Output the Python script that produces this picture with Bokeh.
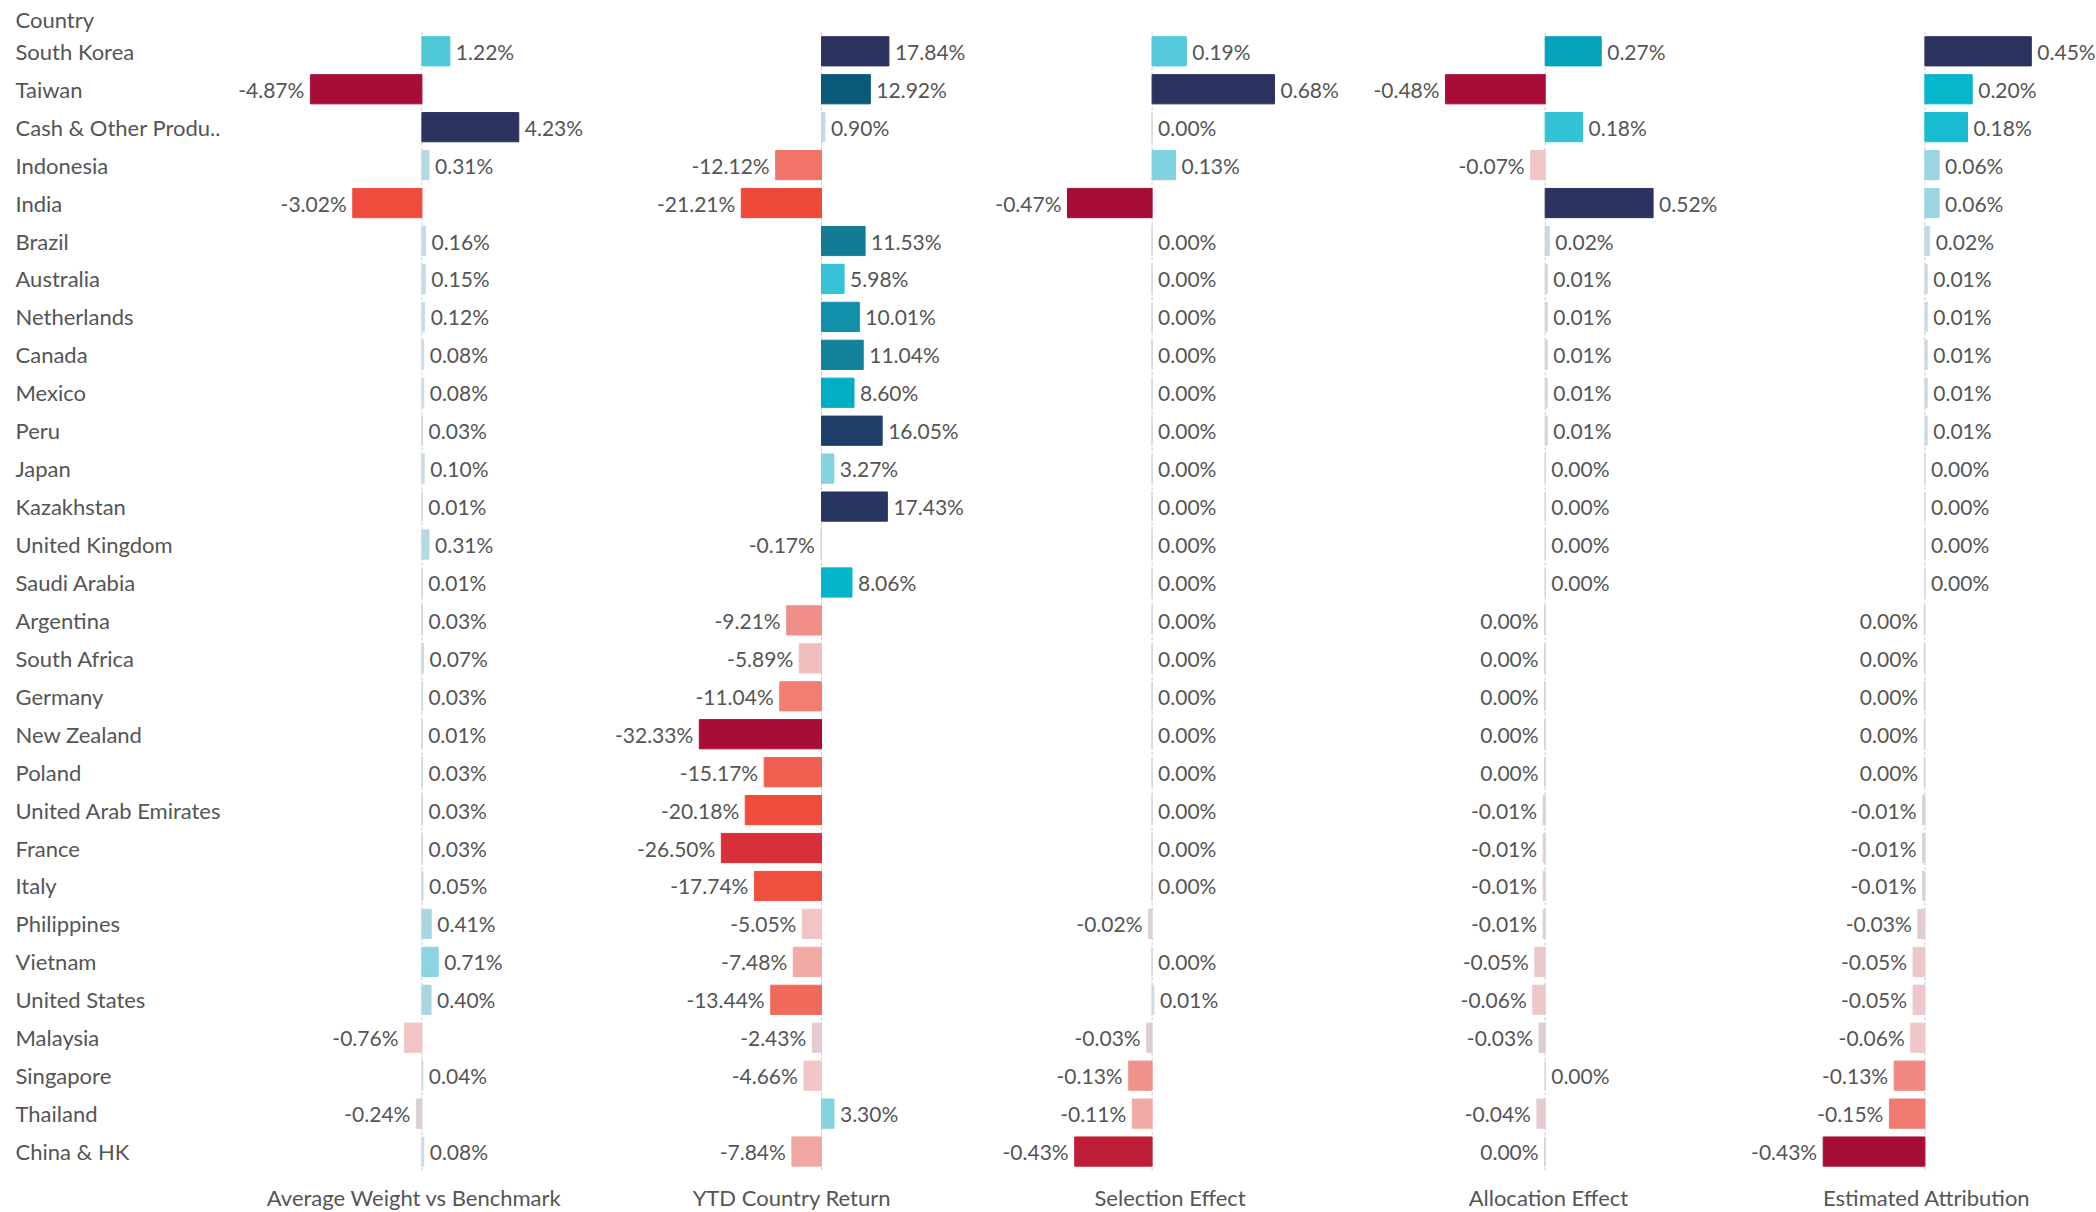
from bokeh.plotting import figure
from bokeh.layouts import row
from bokeh.models import ColumnDataSource, Range1d
from bokeh.embed import file_html
from bokeh.resources import INLINE
from bokeh.core.properties import value

# ---------------- data ----------------
row_header = "Country"
countries = [
    "South Korea", "Taiwan", "Cash & Other Produ..", "Indonesia", "India",
    "Brazil", "Australia", "Netherlands", "Canada", "Mexico",
    "Peru", "Japan", "Kazakhstan", "United Kingdom", "Saudi Arabia",
    "Argentina", "South Africa", "Germany", "New Zealand", "Poland",
    "United Arab Emirates", "France", "Italy", "Philippines", "Vietnam",
    "United States", "Malaysia", "Singapore", "Thailand", "China & HK",
]
avg_weight_vs_benchmark = [
    1.22, -4.87, 4.23, 0.31, -3.02,
    0.16, 0.15, 0.12, 0.08, 0.08,
    0.03, 0.10, 0.01, 0.31, 0.01,
    0.03, 0.07, 0.03, 0.01, 0.03,
    0.03, 0.03, 0.05, 0.41, 0.71,
    0.40, -0.76, 0.04, -0.24, 0.08,
]
ytd_country_return = [
    17.84, 12.92, 0.90, -12.12, -21.21,
    11.53, 5.98, 10.01, 11.04, 8.60,
    16.05, 3.27, 17.43, -0.17, 8.06,
    -9.21, -5.89, -11.04, -32.33, -15.17,
    -20.18, -26.50, -17.74, -5.05, -7.48,
    -13.44, -2.43, -4.66, 3.30, -7.84,
]
selection_effect = [
    0.19, 0.68, 0.00, 0.13, -0.47,
    0.00, 0.00, 0.00, 0.00, 0.00,
    0.00, 0.00, 0.00, 0.00, 0.00,
    0.00, 0.00, 0.00, 0.00, 0.00,
    0.00, 0.00, 0.00, -0.02, 0.00,
    0.01, -0.03, -0.13, -0.11, -0.43,
]
allocation_effect = [
    0.27, -0.48, 0.18, -0.07, 0.52,
    0.02, 0.01, 0.01, 0.01, 0.01,
    0.01, 0.00, 0.00, 0.00, 0.00,
    -0.003, -0.003, -0.003, -0.003, -0.003,
    -0.01, -0.01, -0.01, -0.01, -0.05,
    -0.06, -0.03, 0.00, -0.04, -0.003,
]
estimated_attribution = [
    0.45, 0.20, 0.18, 0.06, 0.06,
    0.02, 0.01, 0.01, 0.01, 0.01,
    0.01, 0.00, 0.00, 0.00, 0.00,
    -0.003, -0.003, -0.003, -0.003, -0.003,
    -0.01, -0.01, -0.01, -0.03, -0.05,
    -0.05, -0.06, -0.13, -0.15, -0.43,
]
column_titles = [
    "Average Weight vs Benchmark", "YTD Country Return", "Selection Effect",
    "Allocation Effect", "Estimated Attribution",
]
measures = [avg_weight_vs_benchmark, ytd_country_return, selection_effect,
            allocation_effect, estimated_attribution]

# ---------------- style ----------------
FONT = "Lato"
TEXT_COLOR = "#555555"
FS_LABEL = "22px"
FS_VALUE = "21px"
ZERO_LINE = "#c9c9c9"

POS_STOPS = [(0.00, "#d3d8dd"), (0.03, "#c9dce3"), (0.10, "#a9d6e1"), (0.17, "#8bd4e2"),
             (0.29, "#4ec8d8"), (0.40, "#17bcd0"), (0.46, "#00b4ca"), (0.52, "#05a3ba"),
             (0.56, "#1190ab"), (0.62, "#12819a"), (0.65, "#137a93"), (0.72, "#0a5a78"),
             (0.90, "#1f3f6b"), (1.00, "#2c335e")]
NEG_STOPS = [(0.00, "#d9d5d8"), (0.05, "#dccfd2"), (0.10, "#e8cacc"), (0.15, "#f2c6c6"),
             (0.18, "#f2bebe"), (0.24, "#f0a8a2"), (0.28, "#f0908a"), (0.34, "#f27e74"),
             (0.375, "#f07468"), (0.415, "#f06a5c"), (0.47, "#f05f50"), (0.55, "#f05040"),
             (0.65, "#f04a3c"), (0.82, "#d8303a"), (1.00, "#a80d38")]


def _rgb(h):
    return tuple(int(h[i:i + 2], 16) for i in (1, 3, 5))


def _interp(stops, t):
    t = max(0.0, min(1.0, t))
    for (t0, c0), (t1, c1) in zip(stops[:-1], stops[1:]):
        if t <= t1:
            f = 0 if t1 == t0 else (t - t0) / (t1 - t0)
            a, b = _rgb(c0), _rgb(c1)
            return "#%02x%02x%02x" % tuple(round(a[k] + (b[k] - a[k]) * f) for k in range(3))
    return stops[-1][1]


def diverging(vals):
    vmax = max(vals)
    vmin = min(vals)
    out = []
    for v in vals:
        if v >= 0:
            out.append(_interp(POS_STOPS, v / vmax if vmax > 0 else 0))
        else:
            out.append(_interp(NEG_STOPS, v / vmin if vmin < 0 else 0))
    return out


def fmt(v):
    r = round(v, 2)
    if r == 0:
        return "0.00%"
    return f"{r:.2f}%"


# ---------------- layout (page pixels) ----------------
H = 1212
ROW_PITCH = 37.94
FIRST_ROW_PX = 50.8       # centre of first row from the top
HEADER_PX = 19.0          # centre of the "Country" header
TITLE_PX = 1197.0         # centre of column titles
PANE_EDGES = [0, 230, 600, 978, 1355, 1730, 2096]
ZEROS = [421.4, 821.0, 1151.6, 1544.7, 1924.4]       # zero line positions
SCALES = [22.9, 3.78, 180.0, 207.5, 236.5]           # px per percentage point
TITLE_CENTERS = [413.7, 791.3, 1169.6, 1547.9, 1926.2]

n = len(countries)
y_top = -FIRST_ROW_PX / ROW_PITCH
y_bottom = y_top + H / ROW_PITCH
y_range = Range1d(start=y_bottom, end=y_top)
ys = list(range(n))
header_y = y_top + HEADER_PX / ROW_PITCH
title_y = y_top + TITLE_PX / ROW_PITCH


def base_fig(width, x_range):
    p = figure(width=width, height=H, x_range=x_range, y_range=y_range,
               x_axis_type=None, y_axis_type=None, toolbar_location=None,
               output_backend="svg", min_border=0,
               outline_line_color=None, background_fill_color="white",
               border_fill_color="white")
    return p


# label column
lw = PANE_EDGES[1] - PANE_EDGES[0]
lab = base_fig(lw, Range1d(PANE_EDGES[0], PANE_EDGES[1]))
lab.text(x=[15] * n, y=ys, text=countries, text_font=value(FONT),
         text_font_size=FS_LABEL, text_color=TEXT_COLOR, text_baseline="middle",
         text_align="left")
lab.text(x=[15], y=[header_y], text=[row_header], text_font=value(FONT),
         text_font_size=FS_LABEL, text_color=TEXT_COLOR, text_baseline="middle",
         text_align="left")

figs = [lab]
for k, (vals, title) in enumerate(zip(measures, column_titles)):
    L, R = PANE_EDGES[k + 1], PANE_EDGES[k + 2]
    z, s = ZEROS[k], SCALES[k]
    xr = Range1d(start=(L - z) / s, end=(R - z) / s)
    p = base_fig(R - L, xr)
    colors = diverging(vals)
    src = ColumnDataSource(dict(y=ys, v=vals, c=colors))
    # dashed zero line spanning the rows
    p.segment(x0=[0], y0=[ys[0] - 0.5], x1=[0], y1=[ys[-1] + 0.5],
              line_color=ZERO_LINE, line_dash="3 2", line_width=1)
    p.hbar(y="y", left=0, right="v", height=0.77, fill_color="c", line_color="c",
           line_width=1, source=src)
    pos = [i for i, v in enumerate(vals) if v >= 0]
    neg = [i for i, v in enumerate(vals) if v < 0]
    p.text(x=[vals[i] for i in pos], y=[ys[i] for i in pos],
           text=[fmt(vals[i]) for i in pos], x_offset=6, text_align="left",
           text_baseline="middle", text_font=value(FONT), text_font_size=FS_VALUE,
           text_color=TEXT_COLOR)
    p.text(x=[vals[i] for i in neg], y=[ys[i] for i in neg],
           text=[fmt(vals[i]) for i in neg], x_offset=-6, text_align="right",
           text_baseline="middle", text_font=value(FONT), text_font_size=FS_VALUE,
           text_color=TEXT_COLOR)
    p.text(x=[(TITLE_CENTERS[k] - z) / s], y=[title_y], text=[title],
           text_align="center", text_baseline="middle", text_font=value(FONT),
           text_font_size=FS_LABEL, text_color=TEXT_COLOR)
    figs.append(p)

layout = row(*figs, spacing=0)
open("out.html", "w").write(file_html(layout, INLINE))
